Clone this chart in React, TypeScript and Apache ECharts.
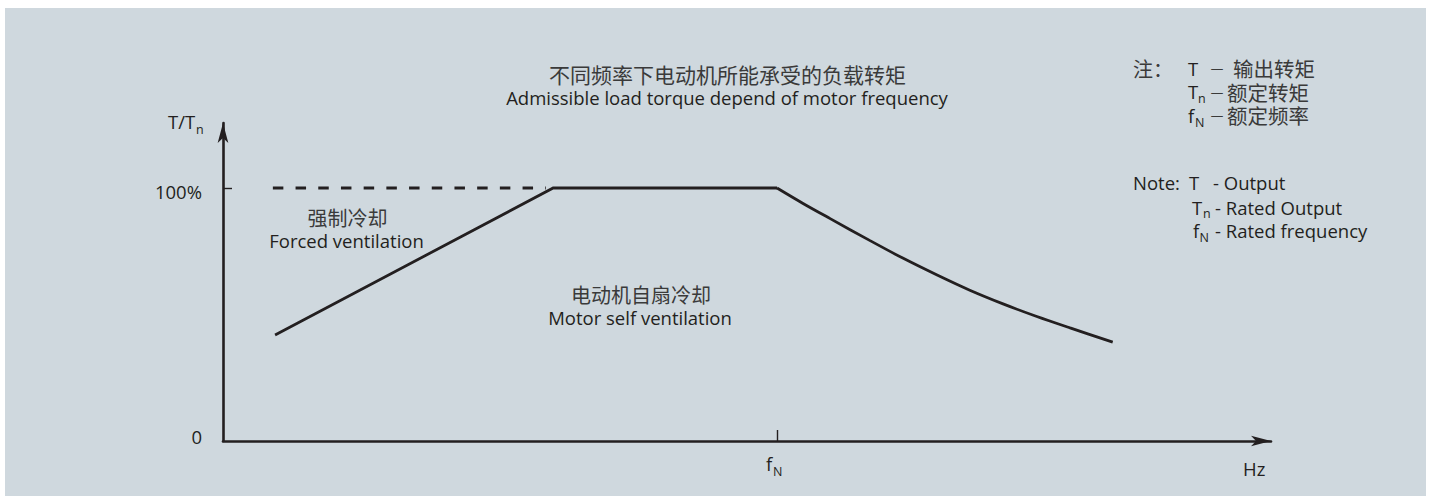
import React, { useEffect, useRef } from 'react';
import * as echarts from 'echarts';

// x = f / fN, y = T / Tn (%)
const dashedX = [0.09, 0.583];
const dashedY = [100, 100];
const rampX = [0.094, 0.596, 1.0];
const rampY = [41.9, 100, 100];
const curveX = [1.0, 1.047, 1.096, 1.168, 1.227, 1.289, 1.348, 1.408, 1.469, 1.529, 1.606];
const curveY = [100, 93.9, 87.9, 79.2, 72.3, 65.6, 59.6, 54.2, 49.2, 44.7, 39.1];
const yTickValues = [0, 100];
const yTickLabels = ['0', '100%'];
const xTickValues = [1];

const LAT = "'Open Sans', 'Noto Sans', sans-serif";
const CJK = "'Noto Sans CJK SC', sans-serif";
const INK = '#231f20';
const CJK_INK = '#3a3a3a';

type TOpt = { size?: number; font?: string; align?: string; fill?: string };
function txt(text: string, x: number, y: number, o: TOpt = {}) {
  const align = o.align || 'left';
  return {
    type: 'text',
    x,
    y,
    z: 20,
    silent: true,
    style: {
      text,
      fontSize: o.size || 18.5,
      fontFamily: o.font || LAT,
      fill: o.fill || INK,
      align,
      verticalAlign: 'middle',
      textAlign: align,
      textVerticalAlign: 'middle',
    },
  };
}

const zip = (xs: number[], ys: number[]) => xs.map((x, i) => [x, ys[i]]);

export default function App() {
  const ref = useRef<HTMLDivElement>(null);
  useEffect(() => {
    if (!ref.current) return;
    const chart = echarts.init(ref.current, undefined, { renderer: 'svg' });
    const lineW = 2.8;
    chart.setOption({
      animation: false,
      grid: { left: 223, right: 163, top: 123, bottom: 55 },
      xAxis: {
        type: 'value',
        min: 0,
        max: 1.8917,
        axisLine: {
          show: true,
          symbol: ['none', 'arrow'],
          symbolSize: [8, 20],
          lineStyle: { color: INK, width: 2.6 },
        },
        axisTick: {
          show: true,
          inside: true,
          length: 11,
          customValues: xTickValues,
          lineStyle: { color: INK, width: 1.4 },
        },
        axisLabel: { show: false },
        splitLine: { show: false },
      },
      yAxis: {
        type: 'value',
        min: 0,
        max: 125.7,
        axisLine: {
          show: true,
          symbol: ['none', 'arrow'],
          symbolSize: [8, 20],
          lineStyle: { color: INK, width: 2.6 },
        },
        axisTick: {
          show: true,
          inside: true,
          length: 9,
          customValues: [100],
          lineStyle: { color: INK, width: 1.4 },
        },
        axisLabel: {
          show: true,
          customValues: yTickValues,
          margin: 21,
          color: INK,
          fontFamily: LAT,
          fontSize: 18.5,
          formatter: (v: number) => {
            const i = yTickValues.indexOf(v);
            if (i < 0) return '';
            return i === 0 ? `{z|${yTickLabels[i]}}` : `{h|${yTickLabels[i]}}`;
          },
          rich: {
            z: { fontSize: 18.5, fontFamily: LAT, color: INK, padding: [0, 0, 10, 0] },
            h: { fontSize: 18.5, fontFamily: LAT, color: INK, padding: [7, 0, 0, 0] },
          },
        },
        splitLine: { show: false },
      },
      series: [
        {
          type: 'line',
          data: zip(dashedX, dashedY),
          symbol: 'none',
          lineStyle: { color: INK, width: lineW, type: [10.5, 12.2] },
          z: 3,
        },
        {
          type: 'line',
          data: zip(rampX, rampY),
          symbol: 'none',
          lineStyle: { color: INK, width: lineW, join: 'miter' },
          z: 3,
        },
        {
          type: 'line',
          data: zip(curveX, curveY),
          symbol: 'none',
          smooth: 0.3,
          lineStyle: { color: INK, width: lineW },
          z: 3,
        },
      ],
      graphic: [
        {
          type: 'rect',
          silent: true,
          z: -10,
          shape: { x: 5, y: 8, width: 1421, height: 488 },
          style: { fill: '#CFD8DE' },
        },
        txt('不同频率下电动机所能承受的负载转矩', 727.5, 74, { size: 21, font: CJK, align: 'center', fill: CJK_INK }),
        txt('Admissible load torque depend of motor frequency', 727, 97.5, { align: 'center' }),
        txt('强制冷却', 347.5, 217, { size: 20, font: CJK, align: 'center', fill: CJK_INK }),
        txt('Forced ventilation', 346.5, 240.5, { align: 'center' }),
        txt('电动机自扇冷却', 641, 294, { size: 20, font: CJK, align: 'center', fill: CJK_INK }),
        txt('Motor self ventilation', 640, 317.5, { align: 'center' }),
        txt('T/T', 168, 121.5),
        txt('n', 196, 129, { size: 12.5 }),
        txt('Hz', 1243, 468.5),
        txt('f', 766, 463.5),
        txt('N', 773, 471, { size: 12.5 }),
        // notes (Chinese)
        txt('注：', 1133, 68, { size: 20, font: CJK, fill: CJK_INK }),
        txt('T', 1188, 68),
        txt('－', 1217, 68, { size: 16, font: CJK, align: 'center', fill: CJK_INK }),
        txt('输出转矩', 1233, 68, { size: 20.5, font: CJK, fill: CJK_INK }),
        txt('T', 1188, 91.7),
        txt('n', 1198, 98.5, { size: 12.5 }),
        txt('－', 1217, 92, { size: 16, font: CJK, align: 'center', fill: CJK_INK }),
        txt('额定转矩', 1227, 92, { size: 20.5, font: CJK, fill: CJK_INK }),
        txt('f', 1188, 115),
        txt('N', 1195, 122, { size: 12.5 }),
        txt('－', 1217, 115, { size: 16, font: CJK, align: 'center', fill: CJK_INK }),
        txt('额定频率', 1227, 115, { size: 20.5, font: CJK, fill: CJK_INK }),
        // notes (English)
        txt('Note:', 1133, 182.5),
        txt('T', 1189, 182.5),
        txt('- Output', 1213, 182.5),
        txt('T', 1192, 207),
        txt('n', 1203, 213.5, { size: 12.5 }),
        txt('- Rated Output', 1215, 207),
        txt('f', 1193, 230.5),
        txt('N', 1199.5, 237, { size: 12.5 }),
        txt('- Rated frequency', 1215, 230.5),
      ],
    });
    return () => chart.dispose();
  }, []);
  return (
    <div
      ref={ref}
      style={{ position: 'absolute', left: 0, top: 0, width: 1434, height: 496, background: '#fff' }}
    />
  );
}
